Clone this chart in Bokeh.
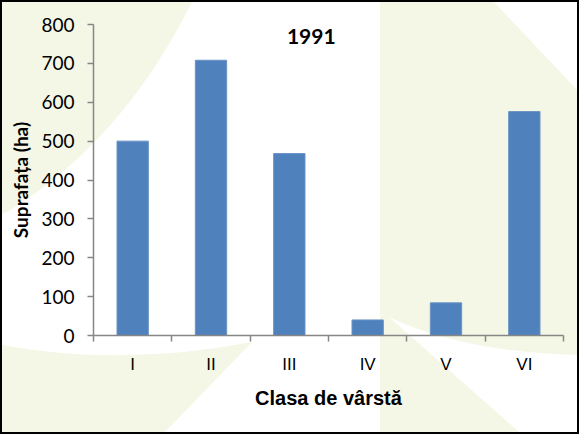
from urllib.parse import quote
from bokeh.plotting import figure
from bokeh.models import Range1d, FixedTicker, Label
from bokeh.embed import file_html
from bokeh.resources import INLINE

# ---- data ----
categories = ["I", "II", "III", "IV", "V", "VI"]
values = [500, 708, 468, 40, 84, 576]
y_ticks = [0, 100, 200, 300, 400, 500, 600, 700, 800]
title_text = "1991"
x_title = "Clasa de vârstă"
y_title = "Suprafața (ha)"

W, H = 579, 434

# decorative watermark behind the chart
svg = (
    f'<svg xmlns="http://www.w3.org/2000/svg" width="{W}" height="{H}">'
    '<rect width="100%" height="100%" fill="#FFFFFF"/>'
    '<g transform="translate(-8,-8)" fill="#F4F7E6">'
    '<path d="M10,10 L200,10 Q130,150 15,220 L10,222 Z"/>'
    '<path d="M10,353 Q130,375 260,350 L173,440 L10,440 Z"/>'
    '<path d="M388,10 L502,10 L587,100 L587,363 Q470,360 397,325 L527,440 L388,440 Z"/>'
    '</g></svg>'
)
bg = 'url("data:image/svg+xml;charset=utf-8,' + quote(svg) + '")'

p = figure(width=W, height=H, output_backend="svg", toolbar_location=None,
           x_range=Range1d(0, len(categories)), y_range=Range1d(0, 800),
           min_border_left=93, min_border_right=16, min_border_top=24, min_border_bottom=99)
p.styles = {"background-color": "white", "background-image": bg, "background-repeat": "no-repeat",
            "background-size": f"{W}px {H}px",
            "box-shadow": "inset 0 0 0 2px black"}
p.border_fill_color = None
p.background_fill_color = None
p.outline_line_color = None
p.xgrid.grid_line_color = None
p.ygrid.grid_line_color = None

xs = [i + 0.5 for i in range(len(categories))]
p.vbar(x=xs, top=values, width=0.4, bottom=0, fill_color="#4F81BD", line_color="#6A93C6", line_width=1)

axis_col = "#868686"
xa = p.xaxis[0]
xa.ticker = FixedTicker(ticks=xs, minor_ticks=list(range(len(categories) + 1)))
xa.major_label_overrides = {x: c for x, c in zip(xs, categories)}
xa.major_tick_line_color = None
xa.minor_tick_line_color = axis_col
xa.minor_tick_line_width = 1.5
xa.minor_tick_in = 0
xa.minor_tick_out = 6
xa.axis_line_color = axis_col
xa.axis_line_width = 1.5
xa.major_label_text_font = "Liberation Sans"
xa.major_label_text_font_size = "17px"
xa.major_label_text_color = "black"
xa.major_label_standoff = 13
xa.axis_label = x_title
xa.axis_label_text_font = "Liberation Sans"
xa.axis_label_text_font_style = "bold"
xa.axis_label_text_font_size = "20px"
xa.axis_label_text_color = "black"
xa.axis_label_standoff = 10

ya = p.yaxis[0]
ya.ticker = FixedTicker(ticks=y_ticks, minor_ticks=[])
ya.major_tick_line_color = axis_col
ya.major_tick_line_width = 1.5
ya.major_tick_in = 0
ya.major_tick_out = 6
ya.minor_tick_line_color = None
ya.axis_line_color = axis_col
ya.axis_line_width = 1.5
ya.major_label_text_font = "Lato"
ya.major_label_text_font_size = "19px"
ya.major_label_text_color = "black"
ya.major_label_standoff = 13
ya.axis_label = y_title
ya.axis_label_text_font = "Lato"
ya.axis_label_text_font_style = "bold"
ya.axis_label_text_font_size = "19px"
ya.axis_label_text_color = "black"
ya.axis_label_standoff = 6

p.add_layout(Label(x=2.78, y=769, text=title_text, text_align="center", text_baseline="middle",
                   text_font="Lato", text_font_style="bold", text_font_size="21px", text_color="black"))

open("out.html", "w").write(file_html(p, INLINE))
